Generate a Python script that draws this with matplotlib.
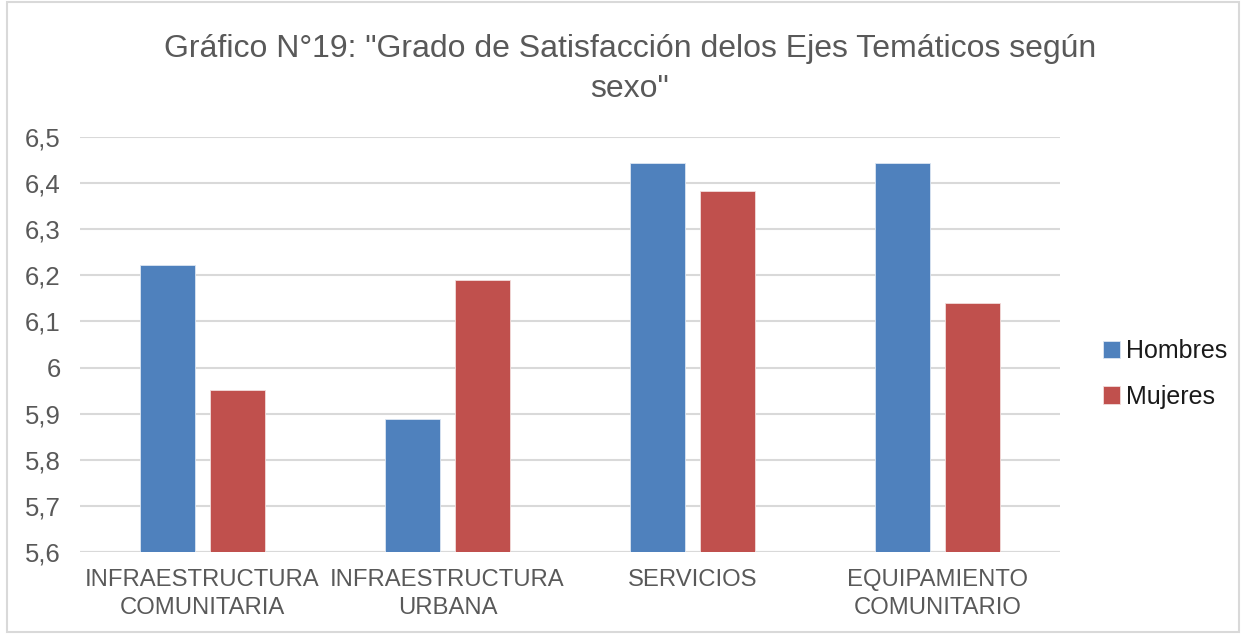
import matplotlib.pyplot as plt
import numpy as np
from matplotlib.patches import Rectangle

plt.rcParams['font.family'] = ['Liberation Sans', 'DejaVu Sans']

categorias = ["INFRAESTRUCTURA\nCOMUNITARIA", "INFRAESTRUCTURA\nURBANA",
              "SERVICIOS", "EQUIPAMIENTO\nCOMUNITARIO"]
hombres = [6.222, 5.888, 6.444, 6.444]
mujeres = [5.951, 6.19, 6.383, 6.141]
yticks = [5.6, 5.7, 5.8, 5.9, 6.0, 6.1, 6.2, 6.3, 6.4, 6.5]
ytick_labels = ["5,6", "5,7", "5,8", "5,9", "6", "6,1", "6,2", "6,3", "6,4", "6,5"]

gris = "#595959"

fig = plt.figure(figsize=(12.43, 6.34), dpi=100)
ax = fig.add_axes([80 / 1243, 1 - 552 / 634, 980 / 1243, 415 / 634])

x = np.arange(len(categorias))
w = 0.224
ax.bar(x - 0.143, hombres, w, bottom=0, color="#4F81BD", edgecolor="#dce6f2",
       linewidth=0.6, label="Hombres", zorder=3)
ax.bar(x + 0.143, mujeres, w, bottom=0, color="#C0504D", edgecolor="#f2dcdb",
       linewidth=0.6, label="Mujeres", zorder=3)

ax.set_xlim(-0.5, 3.5)
ax.set_ylim(5.6, 6.5)
ax.set_yticks(yticks)
ax.set_yticklabels(ytick_labels)
ax.set_xticks(x)
ax.set_xticklabels(categorias, linespacing=1.35)
ax.tick_params(axis="y", length=0, labelsize=18.5, colors=gris, pad=14)
ax.tick_params(axis="x", length=0, labelsize=17.2, colors=gris, pad=12)
ax.grid(axis="y", color="#d9d9d9", linewidth=1.5, zorder=0)
for s in ax.spines.values():
    s.set_visible(False)
ax.axhline(5.6, color="#d9d9d9", linewidth=1.5, zorder=1)

fig.suptitle('Gráfico N°19: "Grado de Satisfacción delos Ejes Temáticos según\nsexo"',
             x=630 / 1243, y=1 - 34 / 634, va="top", fontsize=23, color=gris,
             linespacing=1.42)

leg = fig.legend(loc="center left", bbox_to_anchor=(1080 / 1243, 1 - 374 / 634),
                 frameon=False, fontsize=18, handlelength=0.7, handleheight=0.7,
                 handletextpad=0.25, labelspacing=0.85)
for t in leg.get_texts():
    t.set_color("#1a1a1a")

fig.add_artist(Rectangle((7 / 1243, 2 / 634), 1232 / 1243, 630 / 634,
                         transform=fig.transFigure, fill=False,
                         edgecolor="#d9d9d9", linewidth=1.5))

fig.savefig("out.png", dpi=100)
